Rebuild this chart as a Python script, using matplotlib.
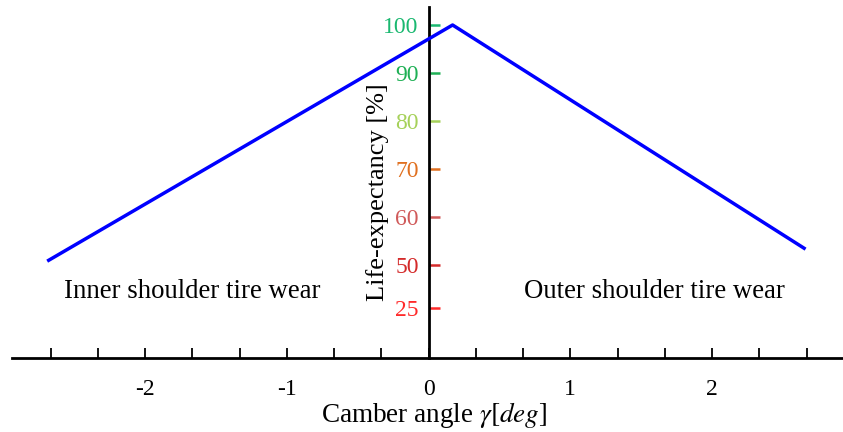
import matplotlib
matplotlib.use("Agg")
import matplotlib.pyplot as plt
import numpy as np

# Data
camber = [-2.69, 0.17, 2.66]
life = [50.8, 100.0, 53.3]

xtick_major = [-2, -1, 0, 1, 2]
xtick_labels = ["-2", "-1", "0", "1", "2"]
xtick_minor = [k / 3 for k in range(-8, 9)]

ytick_pos = [41, 50, 60, 70, 80, 90, 100]
ytick_labels = ["25", "50", "60", "70", "80", "90", "100"]
ytick_colors = ["#ff2a2a", "#d42a2a", "#d05a5a", "#e07020", "#a6d15a", "#1fb055", "#1ab870"]

plt.rcParams["font.family"] = ["Liberation Serif", "DejaVu Serif"]
plt.rcParams["mathtext.fontset"] = "stix"

W, H = 843, 432
fig = plt.figure(figsize=(W / 100, H / 100), dpi=100)
left_px, right_px, top_px, bottom_px = 12, 843, 7, 358
ax = fig.add_axes([left_px / W, (H - bottom_px) / H, (right_px - left_px) / W, (bottom_px - top_px) / H])

x0, sx = 428.5, 141.75
y100, sy = 25.0, 4.8
ax.set_xlim((left_px - x0) / sx, (right_px - x0) / sx)
ax.set_ylim(100 - (bottom_px - y100) / sy, 100 + (y100 - top_px) / sy)

ax.plot(camber, life, color="#0000ff", lw=2.5, solid_capstyle="butt", zorder=3)

for s in ["top", "right"]:
    ax.spines[s].set_visible(False)
ax.spines["left"].set_position(("data", 0))
ax.spines["left"].set_linewidth(2.0)
ax.spines["bottom"].set_linewidth(2.0)

ax.set_xticks(xtick_minor, minor=True)
ax.set_xticks(xtick_major)
ax.set_xticklabels(xtick_labels, fontsize=17)
ax.tick_params(axis="x", which="both", direction="in", length=7, width=1.3, pad=15, colors="black")

ax.set_yticks(ytick_pos)
ax.set_yticklabels(ytick_labels, fontsize=17)
ax.tick_params(axis="y", direction="in", length=8, width=1.8, pad=7)
for lab, c, tk in zip(ax.get_yticklabels(), ytick_colors, ax.yaxis.get_major_ticks()):
    lab.set_color(c)
    tk.tick1line.set_markeredgecolor(c)
    tk.tick1line.set_color(c)

ax.text((192 - x0) / sx, 100 - (291.5 - y100) / sy, "Inner shoulder tire wear",
        fontsize=19.3, ha="center", va="center")
ax.text((654.5 - x0) / sx, 100 - (291.5 - y100) / sy, "Outer shoulder tire wear",
        fontsize=19.3, ha="center", va="center")
ax.text((378 - x0) / sx, 100 - (192 - y100) / sy, "Life-expectancy [%]",
        fontsize=19, ha="center", va="center", rotation=90)

fig.text(434 / W, 1 - 414.5 / H, r"Camber angle $\gamma[deg]$", fontsize=19.5, ha="center", va="center")

fig.savefig("out.png", dpi=100)
